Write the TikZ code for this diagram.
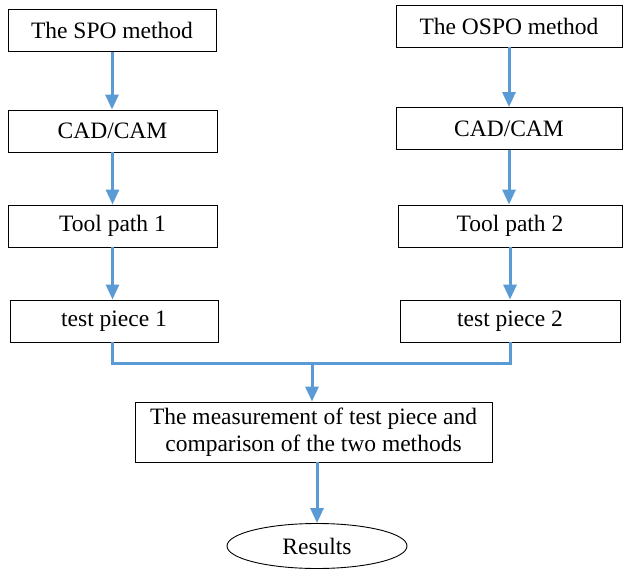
\documentclass[tikz,border=0pt]{standalone}
\usepackage{fontspec}
\setmainfont{Liberation Serif}
\usetikzlibrary{arrows.meta,shapes.geometric}
\definecolor{flowblue}{RGB}{91,155,213}

\begin{document}
\begin{tikzpicture}[x=1pt, y=-1pt,
    box/.style={draw, line width=0.9pt, inner sep=0pt, minimum height=42pt,
                font=\fontsize{23.5}{26.5}\selectfont, align=center},
    flow/.style={draw=flowblue, line width=3pt},
    arr/.style={flow, -{Triangle[width=13pt,length=15pt]}}]
    \useasboundingbox (0,0) rectangle (623,569);

    % left column
    \node[box, minimum width=208pt] (spo)   at (112,30.5) {The SPO method};
    \node[box, minimum width=209pt] (cadL)  at (112.5,131) {CAD/CAM};
    \node[box, minimum width=209pt] (toolL) at (112.5,226) {Tool path 1};
    \node[box, minimum width=208pt] (testL) at (114,321) {test piece 1};

    % right column
    \node[box, minimum width=226pt] (ospo)  at (509,26) {The OSPO method};
    \node[box, minimum width=226pt] (cadR)  at (509,128.5) {CAD/CAM};
    \node[box, minimum width=224pt] (toolR) at (510,226) {Tool path 2};
    \node[box, minimum width=220pt] (testR) at (510,321) {test piece 2};

    % bottom
    \node[box, minimum width=357pt, minimum height=60pt] (meas) at (313.5,432)
        {The measurement of test piece and\\comparison of the two methods};
    \node[draw, ellipse, line width=0.9pt, inner sep=0pt, minimum width=180pt,
          minimum height=45pt, font=\fontsize{23.5}{26.5}\selectfont] (res) at (317,546) {Results};
    \coordinate (mrg) at (312,363);

    \draw[arr] (spo.south)   -- (spo.south |- cadL.north);
    \draw[arr] (cadL.south)  -- (cadL.south |- toolL.north);
    \draw[arr] (toolL.south) -- (toolL.south |- testL.north);
    \draw[arr] (ospo.south)  -- (ospo.south |- cadR.north);
    \draw[arr] (cadR.south)  -- (cadR.south |- toolR.north);
    \draw[arr] (toolR.south) -- (toolR.south |- testR.north);

    \draw[flow] (testL.south -| spo.south) |- (mrg) -| (testR.south);
    \draw[arr] (mrg) -- (mrg |- meas.north);
    \draw[arr] (meas.south -| res.north) -- (res.north);
\end{tikzpicture}
\end{document}
